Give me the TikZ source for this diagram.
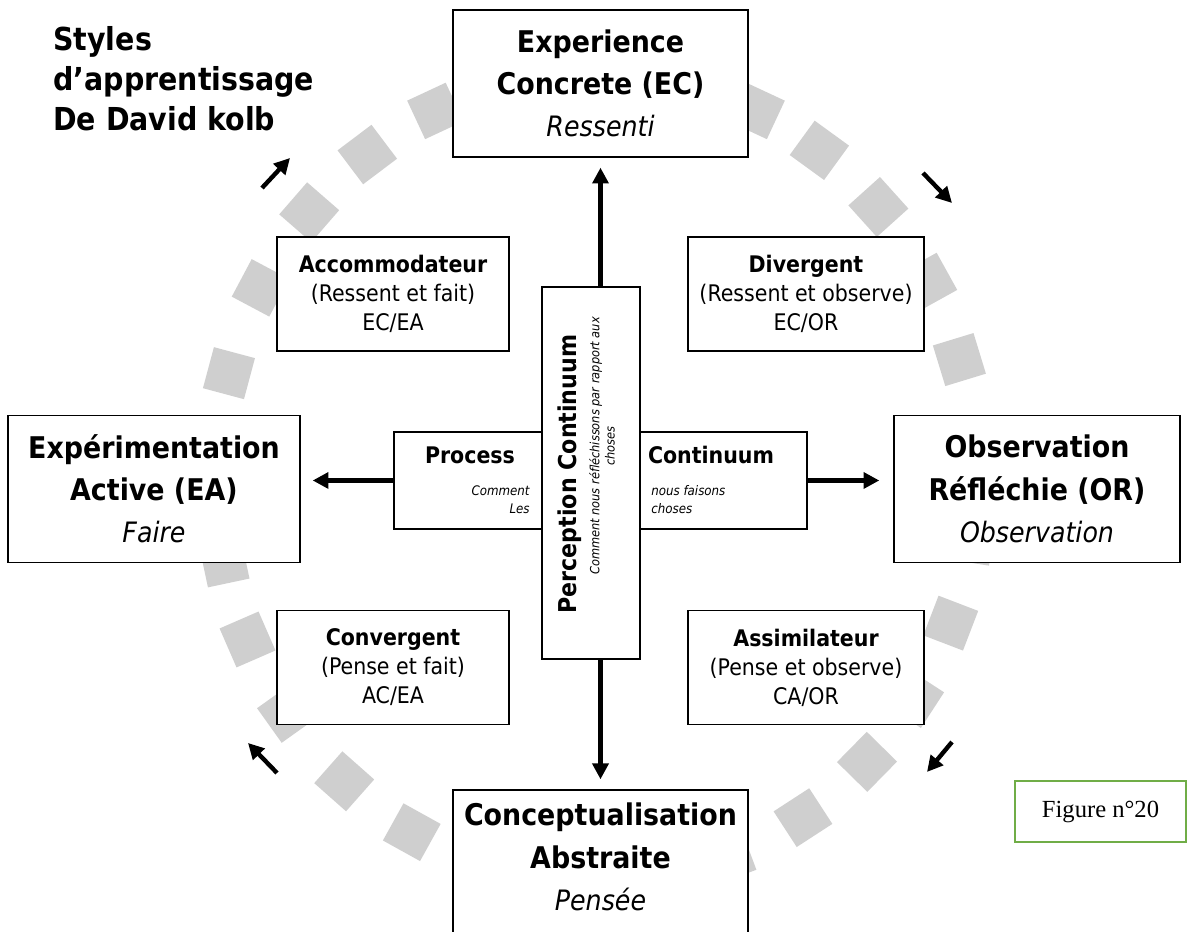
\documentclass[tikz,border=0pt]{standalone}
\usepackage{fontspec}
\setmainfont{DejaVu Sans Condensed}
\newfontfamily\figfont{Liberation Serif}
\usetikzlibrary{arrows.meta}
\definecolor{figgreen}{RGB}{112,173,71}

\begin{document}
\begin{tikzpicture}[x=0.02cm, y=0.02cm,
	carre/.style={fill=gray!38, minimum size=0.85cm, inner sep=0pt},
	pole/.style={draw=black, line width=0.8pt, fill=white, align=center, inner sep=0pt,
		minimum width=5.9cm, minimum height=2.94cm, font=\fontsize{17}{24}\selectfont},
	stylebox/.style={draw=black, line width=0.8pt, fill=white, align=center, inner sep=0pt,
		minimum height=2.28cm, font=\fontsize{13}{16.5}\selectfont},
	fleche/.style={line width=2.5pt, -{Triangle[length=9pt, width=9pt]}},
	petit/.style={font=\fontsize{7.5}{10.5}\selectfont\itshape, inner sep=0pt}]
	\useasboundingbox (0, 0) rectangle (1188, 932);

	% Kreis aus Quadraten
	\foreach \a [count=\i] in {5,17,29,42,54,65,77,89,101,115,127,139,152,165,178,
		192,203.5,215.5,228.5,241,253,265.5,278,290.5,303,315.5,327,339,351}
		\node[carre, rotate=\a] (carre\i) at ({596+380*cos(\a)}, {454+405*sin(\a)}) {};

	% Titel
	\node[anchor=north west, align=left, inner sep=0pt,
		font=\fontsize{18}{22.7}\selectfont\bfseries] (titre) at (53, 906)
		{Styles\\d’apprentissage\\De David kolb};

	% Hauptfelder
	\node[pole] (EC) at (600.5, 848.5)
		{\textbf{Experience}\\\textbf{Concrete (EC)}\\{\fontsize{16}{24}\selectfont\itshape Ressenti}};
	\node[pole, minimum width=5.84cm] (EA) at (154, 443)
		{\textbf{Expérimentation}\\\textbf{Active (EA)}\\{\fontsize{16}{24}\selectfont\itshape Faire}};
	\node[pole, minimum width=5.72cm] (OR) at (1037, 443)
		{\textbf{Observation}\\\textbf{Réfléchie (OR)}\\{\fontsize{16}{24}\selectfont\itshape Observation}};
	\node[pole, minimum height=3cm] (CA) at (600.5, 67) {};
	\node[align=center, inner sep=0pt, font=\fontsize{17}{24}\selectfont] (CAtext) at (600.5, 75)
		{\textbf{Conceptualisation}\\\textbf{Abstraite}\\{\fontsize{16}{24}\selectfont\itshape Pensée}};

	% Stile
	\node[stylebox, minimum width=4.64cm] (acc) at (393, 638)
		{\textbf{Accommodateur}\\(Ressent et fait)\\EC/EA};
	\node[stylebox, minimum width=4.72cm] (div) at (806, 638)
		{\textbf{Divergent}\\(Ressent et observe)\\EC/OR};
	\node[stylebox, minimum width=4.64cm] (conv) at (393, 264.5)
		{\textbf{Convergent}\\(Pense et fait)\\AC/EA};
	\node[stylebox, minimum width=4.72cm] (assim) at (806, 264.5)
		{\textbf{Assimilateur}\\(Pense et observe)\\CA/OR};

	% Kreuz in der Mitte
	\node[draw=black, line width=0.8pt, fill=white, inner sep=0pt,
		minimum width=8.26cm, minimum height=1.94cm] (hbox) at (600.5, 451.5) {};
	\node[font=\fontsize{13}{16}\selectfont\bfseries] (process) at (470, 477) {Process};
	\node[font=\fontsize{13}{16}\selectfont\bfseries] (continuum) at (711, 477) {Continuum};
	\node[petit, align=right, anchor=east] (comment) at (530, 432.5) {Comment\\Les};
	\node[petit, align=left, anchor=west] (faisons) at (651, 432.5) {nous faisons\\choses};
	\node[draw=black, line width=0.8pt, fill=white, inner sep=0pt,
		minimum width=1.96cm, minimum height=7.44cm] (vbox) at (591, 459) {};
	\node[rotate=90, font=\fontsize{14}{16}\selectfont\bfseries] (perception) at (570, 458)
		{Perception Continuum};
	\node[petit, rotate=90, align=center, font=\fontsize{7.2}{8.6}\selectfont\itshape] (reflechir) at (602, 486)
		{Comment nous réfléchissons par rapport aux\\choses};

	% Pfeile
	\draw[fleche, shorten >=0.2cm] (EC.south |- vbox.north) -- (EC.south);
	\draw[fleche, shorten >=0.2cm] (CA.north |- vbox.south) -- (CA.north);
	\draw[fleche, shorten >=0.24cm] (hbox.west) -- (hbox.west -| EA.east);
	\draw[fleche, shorten >=0.28cm] (hbox.east) -- (hbox.east -| OR.west);

	% kleine Pfeile am Kreis
	\draw[fleche] (262, 744) -- (290, 774);
	\draw[fleche] (923, 759) -- (952, 729);
	\draw[fleche] (952, 190) -- (927, 160);
	\draw[fleche] (277, 159) -- (248, 189);

	% Abbildung
	\node[draw=figgreen, line width=1.5pt, minimum width=3.42cm, minimum height=1.22cm, inner sep=0pt,
		font=\figfont\fontsize{14}{16}\selectfont] (figure) at (1100.5, 120.5) {Figure n°20};
\end{tikzpicture}
\end{document}
